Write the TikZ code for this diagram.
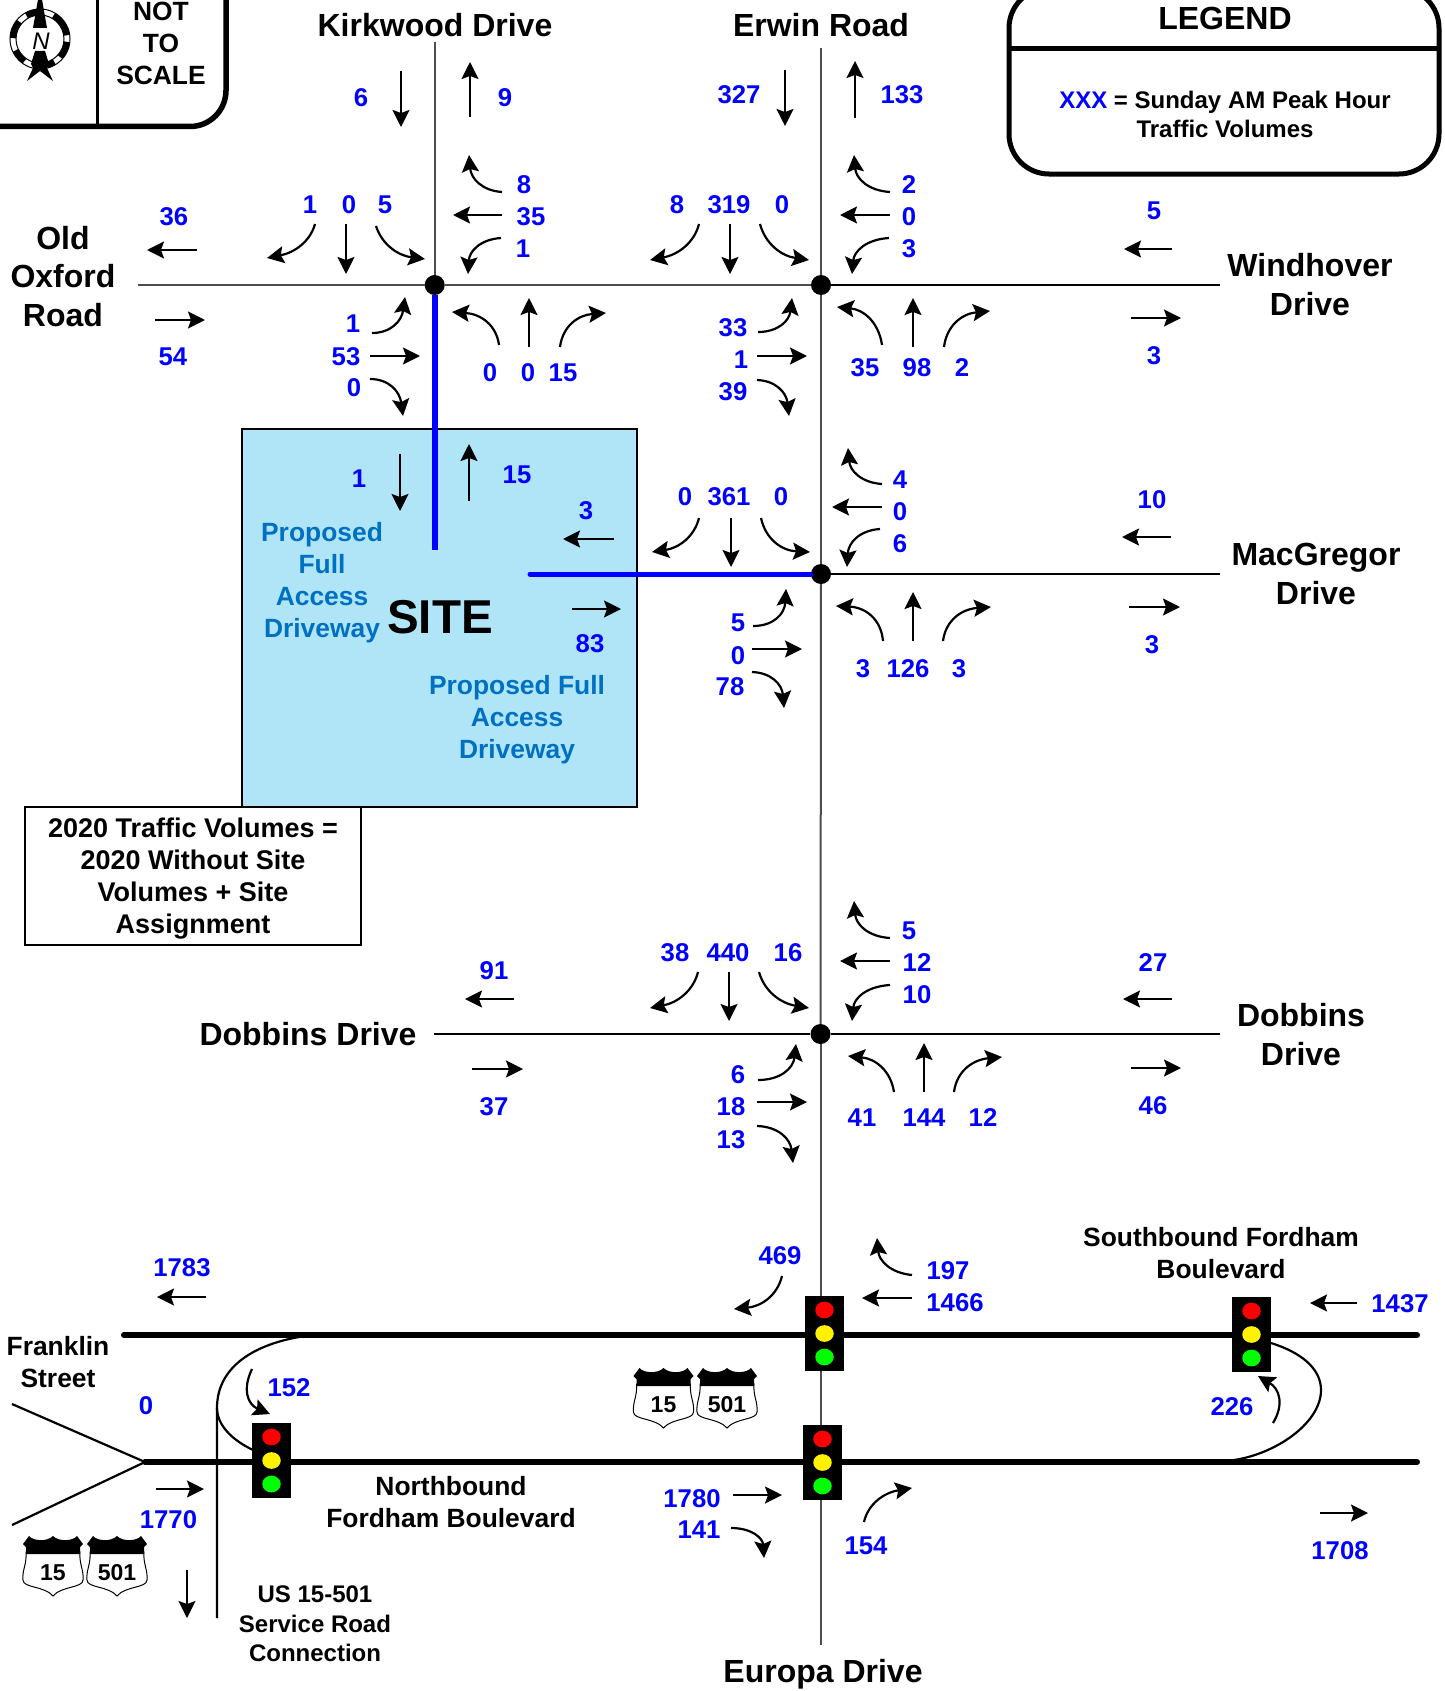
\documentclass[tikz,border=0pt]{standalone}
\usepackage{fontspec}
\setmainfont{Liberation Sans}
\usetikzlibrary{arrows.meta,shapes.geometric,calc}
\definecolor{volblue}{HTML}{0000FF}
\definecolor{sitefill}{HTML}{B0E5F8}
\definecolor{sitetext}{HTML}{0070C0}
\definecolor{roadgrey}{HTML}{4D4D4D}

\begin{document}
\begin{tikzpicture}[
  x=1pt, y=-1pt,
  road/.style={roadgrey, line width=2pt},
  thickroad/.style={black, line width=6pt, line cap=round},
  thinroad/.style={black, line width=2.2pt},
  frame/.style={black, line width=5.5pt},
  arr/.style={-{Stealth[length=17pt,width=17pt,inset=3pt]}, line width=2.2pt},
  dot/.style={circle, fill=black, inner sep=0pt, minimum size=20pt},
  vol/.style={text=volblue, inner sep=0pt, yshift=-1pt, font=\bfseries\fontsize{25.7}{30}\selectfont},
  bigname/.style={align=center, inner sep=0pt, font=\bfseries\fontsize{32}{38.5}\selectfont},
  smallname/.style={align=center, inner sep=0pt, font=\bfseries\fontsize{26.4}{32}\selectfont},
  sitename/.style={smallname, text=sitetext},
  lamp/.style={ellipse, inner sep=0pt, minimum width=18.5pt, minimum height=16.7pt},
  pics/signal/.style={code={
    \node[fill=black, inner sep=0pt, minimum width=39pt, minimum height=75pt] (-box) at (0,0) {};
    \node[lamp, fill=red] (-r) at (0,-23.5) {};
    \node[lamp, fill=yellow] (-y) at (0,0) {};
    \node[lamp, fill=green] (-g) at (0,23.5) {};
  }},
  pics/shield/.style={code={
    \draw[fill=white, line width=1pt] (-27,16) .. controls (-26,28) and (-31,34) .. (-30,44)
      .. controls (-30,52) and (-8,50) .. (0,60) .. controls (8,50) and (30,52) .. (30,44)
      .. controls (31,34) and (26,28) .. (27,16) -- cycle;
    \fill (-30,8) -- (-24,0) .. controls (-20,5) and (-6,6) .. (0,0)
      .. controls (6,6) and (20,5) .. (24,0) -- (30,8) -- (27,11) -- (27,18) -- (-27,18) -- (-27,11) -- cycle;
    \node[inner sep=0pt, font=\bfseries\fontsize{23}{26}\selectfont] (-num) at (0,37) {#1};
  }}
]
\useasboundingbox (0,0) rectangle (1444,1691);

\node[draw=black, line width=1.2pt, fill=sitefill, inner sep=0pt, minimum width=395pt, minimum height=378pt] (site) at (439.5,618) {};

\node[dot] (kirk) at (434.7,285) {};
\node[dot] (wind) at (821,285) {};
\node[dot] (macg) at (821,574) {};
\node[dot] (dobb) at (820.5,1034) {};
\coordinate (kirkN) at (434.7,42);
\coordinate (oxfW) at (138,285);
\coordinate (erwN) at (821,48);
\coordinate (windE) at (1220,285);
\coordinate (macgE) at (1220,574);
\coordinate (dobbW) at (434,1034);
\coordinate (dobbE) at (1220,1034);
\coordinate (eurS) at (820.5,1645);
\coordinate (driveA) at (434.7,550);
\coordinate (driveB) at (530,574);
\coordinate (sbW) at (124,1335);
\coordinate (sbE) at (1417,1335);
\coordinate (nbW) at (145,1462);
\coordinate (nbE) at (1417,1462);
\coordinate (wedgeA) at (12,1404);
\coordinate (wedgeB) at (12,1525);
\coordinate (svcS) at (217,1618);

\draw[road] (kirkN) -- (kirk);
\draw[road] (oxfW) -- (kirk);
\draw[road] (kirk) -- (wind);
\draw[road, black] (wind) -- (windE);
\draw[road] (erwN) -- (wind);
\draw[road] (wind) -- (macg);
\draw[road, black] (macg) -- (macgE);
\draw[road] (macg) -- (dobb);
\draw[road, black] (dobbW) -- (dobb);
\draw[road, black] (dobb) -- (dobbE);
\draw[road] (dobb) -- (eurS);
\draw[blue, line width=6pt] (kirk) -- (driveA);
\draw[blue, line width=5pt, line cap=round] (macg) -- (driveB);

\draw[thickroad] (sbW) -- (sbE);
\draw[thickroad] (nbW) -- (nbE);
\draw[thinroad] (wedgeA) -- (nbW) -- (wedgeB);
\draw[thinroad] (svcS) -- (217,1408) .. controls (217,1368) and (252,1344) .. (305,1336);
\draw[thinroad] (217,1408) .. controls (217,1425) and (232,1440) .. (253,1450);
\draw[thinroad] (1271,1343) .. controls (1300,1352) and (1321,1368) .. (1321,1390)
  .. controls (1321,1425) and (1270,1458) .. (1225,1461);

\pic (sigA) at (271.5,1460.5) {signal};
\pic (sigB) at (824.5,1333.5) {signal};
\pic (sigC) at (822.5,1462.5) {signal};
\pic (sigD) at (1251.5,1334.5) {signal};

\pic (shA) at (53,1536) {shield=15};
\pic (shB) at (117,1536) {shield=501};
\pic (shC) at (663.5,1368) {shield=15};
\pic (shD) at (727,1368) {shield=501};

\draw[frame] (-10,126.5) [rounded corners=36pt] -- (226,126.5) -- (226,-10);
\draw[black, line width=3pt] (97,-10) -- (97,126.5);
\draw[line width=1pt] (40,39) circle (30);
\draw[line width=1pt] (40,39) circle (24);
\foreach \sa/\ea in {-60/-8, 6/42, 58/75, -235/-205, -178/-140, -120/-95}
  \draw[line width=6pt] (40,39) ++(\sa:27) arc[start angle=\sa, end angle=\ea, radius=27];
\fill (40,-12) -- (47,28) -- (33,28) -- cycle;
\fill (35,51) -- (45,51) -- (49,64) -- (47,68) -- (53,81) -- (40,71) -- (27,81) -- (33,68) -- (31,64) -- cycle;
\node[inner sep=0pt, font=\itshape\fontsize{24}{26}\selectfont] (north) at (41,41) {N};
\node[smallname] (scale) at (161,43.5) {NOT\\TO\\SCALE};

\draw[frame, line width=5pt, rounded corners=40pt] (1009,-12) rectangle (1439,174);
\draw[frame, line width=5pt] (1009,49) -- (1439,49);
\node[bigname] (legend) at (1225,18) {LEGEND};
\node[align=center, inner sep=0pt, font=\bfseries\fontsize{24}{29}\selectfont] (legendtxt) at (1225,114.5)
  {\textcolor{volblue}{XXX} = Sunday AM Peak Hour\\Traffic Volumes};

\node[draw=black, line width=1.2pt, fill=white, inner sep=0pt, minimum width=336pt, minimum height=138pt] (notebox) at (193,876) {};
\node[align=center, inner sep=0pt, font=\bfseries\fontsize{27}{32}\selectfont] (note) at (193,879)
  {2020 Traffic Volumes =\\2020 Without Site\\Volumes + Site\\Assignment};

\node[bigname] (kirkwood) at (435,25) {Kirkwood Drive};
\node[bigname] (erwin) at (821,25) {Erwin Road};
\node[bigname] (oxford) at (63,276.5) {Old\\Oxford\\Road};
\node[bigname] (windhover) at (1310,284.5) {Windhover\\Drive};
\node[bigname] (macgregor) at (1316,574) {MacGregor\\Drive};
\node[bigname] (dobbinsW) at (308,1034) {Dobbins Drive};
\node[bigname] (dobbinsE) at (1301,1034.5) {Dobbins\\Drive};
\node[bigname] (europa) at (823,1674) {Europa Drive};
\node[smallname] (franklin) at (58,1362) {Franklin\\Street};
\node[smallname] (southbound) at (1221,1253) {Southbound Fordham\\Boulevard};
\node[smallname] (northbound) at (451,1502) {Northbound\\Fordham Boulevard};
\node[smallname, font=\bfseries\fontsize{24}{29.5}\selectfont] (service) at (315,1624) {US 15-501\\Service Road\\Connection};
\node[sitename] (driveL) at (322,583) {Proposed\\Full\\Access\\Driveway};
\node[sitename] (driveR) at (517,720) {Proposed Full\\Access\\Driveway};
\node[inner sep=0pt, font=\bfseries\fontsize{47.5}{50}\selectfont] (sitelabel) at (440,617) {SITE};

\foreach \xpos/\ypos/\val [count=\i] in {
  361/97/6, 505/97/9, 174/216/36, 173/356/54, 310/204/1, 349/204/0, 385/204/5,
  353/323/1, 346/356/53, 354/387/0, 524/184/8, 531/216/35, 523/248/1,
  490/372/0, 528/372/0, 563/372/15,
  739/94/327, 902/94/133, 677/204/8, 729/204/319, 782/204/0, 909/184/2, 909/216/0, 909/248/3,
  733/327/33, 741/359/1, 733/391/39, 865/367/35, 917/367/98, 962/367/2,
  1154/210/5, 1154/355/3,
  359/478/1, 517/474/15, 586/510/3, 590/643/83,
  685/496/0, 729/496/361, 781/496/0, 900/479/4, 900/511/0, 900/543/6,
  738/622/5, 738/655/0, 730/686/78, 863/668/3, 908/668/126, 959/668/3,
  1152/499/10, 1152/644/3,
  494/970/91, 494/1106/37, 675/952/38, 728/952/440, 788/952/16,
  909/930/5, 917/962/12, 917/994/10, 738/1074/6, 731/1106/18, 731/1139/13,
  862/1117/41, 924/1117/144, 983/1117/12, 1153/962/27, 1153/1105/46,
  182/1267/1783, 146/1405/0, 289/1387/152, 168.5/1519/1770,
  780/1255/469, 948/1270/197, 955/1302/1466, 1400/1303/1437, 1232/1406/226,
  1340/1550/1708, 692/1498/1780, 699/1529/141, 866/1545/154}
  \node[vol] (vol\i) at (\xpos,\ypos) {\val};

\foreach \xa/\ya/\xb/\yb in {
  401/71/401/127, 470/117/470/62, 197/250/147/250, 155/320/205/320,
  346/224/346/274, 370/356/420/356, 502/215/453/215, 529/347/529/298,
  785/70/785/126, 855/118/855/61, 730/224/730/274, 890/215/840/215,
  757/356/807/356, 913/347/913/298, 1172/249/1124/249, 1131/318/1181/318,
  400/454/400/511, 469/501/469/444, 614/539/563/539, 572/609/621/609,
  731/518/731/567, 882/507/832/507, 752/649/802/649, 913/641/913/592,
  1171/537/1122/537, 1129/607/1180/607,
  514/999/465/999, 472/1069/523/1069, 729/972/729/1021, 890/961/840/961,
  757/1102/807/1102, 924/1092/924/1043, 1172/999/1123/999, 1131/1068/1181/1068,
  206/1297/157/1297, 156/1489/204/1489, 187/1570/187/1618, 912/1298/862/1298,
  1357/1303/1310/1303, 1320/1513/1368/1513, 733/1495/782/1495}
  \draw[arr] (\xa,\ya) -- (\xb,\yb);

\foreach \xa/\ya/\xc/\yc/\xb/\yb in {
  315/224/308/250/267/258, 376/226/385/254/425/259, 372/333/400/333/405/297,
  370/379/398/379/403/416, 502/192/472/190/469/155, 501/238/470/240/468/274,
  499/345/495/315/452/312, 560/347/564/316/606/313,
  699/224/692/252/650/260, 760/224/768/254/809/260, 890/192/857/190/854/155,
  889/238/855/240/852/274, 758/332/788/332/792/298, 757/380/785/381/789/416,
  882/345/877/311/837/307, 944/347/948/315/990/311,
  699/518/692/546/652/552, 761/518/768/550/810/552, 882/484/851/482/848/448,
  880/529/849/531/847/567, 753/626/784/626/786/589, 752/672/781/673/784/708,
  883/641/880/608/836/606, 943/641/947/610/991/607,
  698/972/691/1000/650/1008, 759/972/767/1001/809/1008, 890/938/857/936/854/901,
  890/985/855/987/852/1021, 758/1080/792/1080/796/1044, 757/1126/789/1127/793/1163,
  894/1092/889/1060/848/1056, 954/1092/958/1061/1002/1057,
  252/1369/237/1400/270/1414, 782/1276/775/1305/734/1309, 912/1275/880/1272/877/1238,
  1273/1423/1290/1395/1258/1376, 731/1528/762/1528/764/1558, 864/1522/870/1495/912/1488}
  \draw[arr] (\xa,\ya) .. controls ($(\xa,\ya)!.67!(\xc,\yc)$) and ($(\xb,\yb)!.67!(\xc,\yc)$) .. (\xb,\yb);
\end{tikzpicture}
\end{document}
